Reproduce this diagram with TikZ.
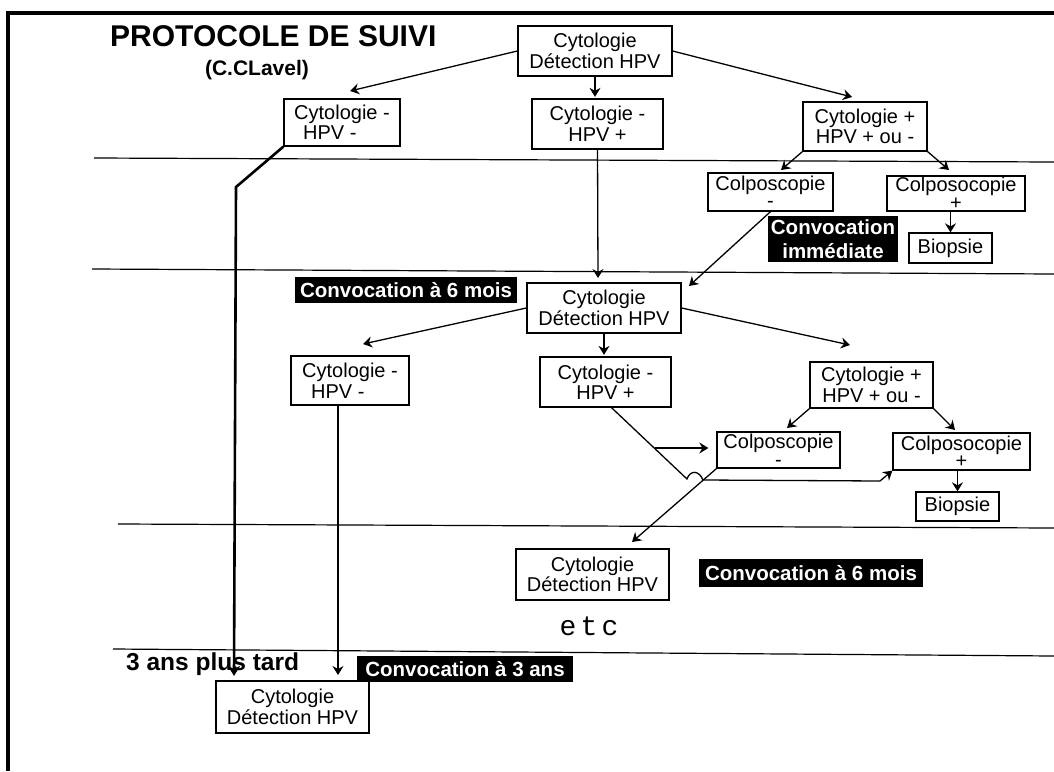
\documentclass[tikz,border=0pt]{standalone}
\usepackage{fontspec}
\setmainfont{Liberation Sans}
\newfontfamily\monof[LetterSpace=15]{Liberation Mono}
\usetikzlibrary{arrows.meta,calc}
\begin{document}
\begin{tikzpicture}[x=1pt,y=-1pt,
  box/.style={draw,line width=1.3pt,inner sep=0pt,align=center,font=\fontsize{20}{20.5}\selectfont},
  blk/.style={fill=black,text=white,inner sep=0pt,align=center,font=\bfseries\fontsize{20.5}{24}\selectfont},
  conn/.style={line width=1.3pt,-{Stealth[length=9pt,width=11pt,inset=3pt]}},
  thickconn/.style={line width=2.6pt,-{Stealth[length=10pt,width=12pt,inset=3pt]}},
  sep/.style={line width=1.2pt},
]
\useasboundingbox (0,0) rectangle (1054,771);
\fill[white] (0,0) rectangle (1054,771);
% frame
\draw[line width=4pt] (7.5,771) -- (7.5,12.5) -- (1054,12.5);
% separators
\draw[sep] (94,158) -- (1054,162);
\draw[sep] (92,269) -- (1054,274);
\draw[sep] (118,524) -- (1054,528);
\draw[sep] (113,649) -- (1054,656);
% titles
\node[anchor=base west,font=\bfseries\fontsize{30}{30}\selectfont,inner sep=0pt] (title) at (110,46) {PROTOCOLE DE SUIVI};
\node[anchor=base,font=\bfseries\fontsize{21}{22}\selectfont,inner sep=0pt] (auth) at (257,75) {(C.CLavel)};
% level 0
\node[box,minimum width=154pt,minimum height=50pt] (t1) at (595,51) {Cytologie\\Détection HPV};
% level 1
\node[box,minimum width=116pt,minimum height=47pt,align=left] (l1) at (342,122.5) {Cytologie -\\\hspace*{9pt}HPV -};
\node[box,minimum width=131pt,minimum height=50pt] (m1) at (597.5,124) {Cytologie -\\HPV +};
\node[box,minimum width=124pt,minimum height=49pt] (r1) at (865,126.5) {Cytologie +\\HPV + ou -};
\node[box,minimum width=125pt,minimum height=38pt] (cm1) at (770.5,192) {Colposcopie\\[-3pt]-};
\node[box,minimum width=138pt,minimum height=35pt] (cp1) at (956,193.5) {Colposocopie\\[-3pt]+};
\node[box,minimum width=83pt,minimum height=30pt] (b1) at (950.5,248) {Biopsie};
\node[blk,minimum width=130pt,minimum height=46pt] (ci) at (833,239) {Convocation\\immédiate};
% level 2
\node[blk,minimum width=222pt,minimum height=26pt] (cv6a) at (406,290) {Convocation à 6 mois};
\node[box,minimum width=154pt,minimum height=50pt] (t2) at (604,308) {Cytologie\\Détection HPV};
\node[box,minimum width=118pt,minimum height=49pt,align=left] (l2) at (350,380.5) {Cytologie -\\\hspace*{9pt}HPV -};
\node[box,minimum width=131pt,minimum height=50pt] (m2) at (605.5,382) {Cytologie -\\HPV +};
\node[box,minimum width=123pt,minimum height=46pt] (r2) at (871.5,385) {Cytologie +\\HPV + ou -};
\node[box,minimum width=123pt,minimum height=36pt] (cm2) at (778.5,450) {Colposcopie\\[-3pt]-};
\node[box,minimum width=137pt,minimum height=37pt] (cp2) at (961.5,451.5) {Colposocopie\\[-3pt]+};
\node[box,minimum width=83pt,minimum height=29pt] (b2) at (957.5,506.5) {Biopsie};
% level 3
\node[box,minimum width=153pt,minimum height=51pt] (t3) at (592.5,574.5) {Cytologie\\Détection HPV};
\node[blk,minimum width=224pt,minimum height=28pt] (cv6b) at (811,573) {Convocation à 6 mois};
\node[anchor=base,font=\monof\fontsize{28}{28}\selectfont,inner sep=0pt] (etc) at (589,635) {etc};
% level 4
\node[anchor=base west,font=\bfseries\fontsize{24.5}{25}\selectfont,inner sep=0pt] (tard) at (126,670) {3 ans plus tard};
\node[blk,minimum width=216pt,minimum height=26pt] (cv3) at (465,669) {Convocation à 3 ans};
\node[box,minimum width=153pt,minimum height=52pt] (bot) at (292.5,707) {Cytologie\\Détection HPV};
% arrow tips
\coordinate (a1) at (350,91);
\coordinate (a3) at (852,97);
\coordinate (a4) at (781,170);
\coordinate (a5) at (949,170);
\coordinate (a7) at (598,278);
\coordinate (a8) at (689,286);
\coordinate (a9) at (363,344);
\coordinate (a11) at (850,345);
\coordinate (a12) at (787,428);
\coordinate (a13) at (955,430);
\coordinate (a16) at (632,542);
\coordinate (a17) at (234,676);
\coordinate (a18) at (338,675);
\coordinate (br) at (655,448);
% connectors level 0 -> 1
\draw[conn] (t1.west) -- (a1);
\draw[conn,shorten >=1.5pt] (t1.south) -- (t1.south |- m1.north);
\draw[conn] (t1.east) -- (a3);
\draw[conn] (r1.south west) -- (a4);
\draw[conn] (r1.south east) -- (a5);
\draw[conn] (b1.north |- cp1.south) -- (b1.north);
% to level 2
\draw[conn] (m1.south) -- (a7);
\draw[conn] (cm1.south) -- (a8);
\draw[conn] (t2.west) -- (a9);
\draw[conn,shorten >=1.5pt] (t2.south) -- (t2.south |- m2.north);
\draw[conn] (t2.east) -- (a11);
\draw[conn] (r2.south west) -- (a12);
\draw[conn] (r2.south east) -- (a13);
\draw[conn] (b2.north |- cp2.south) -- (b2.north);
\draw[conn] ([xshift=6pt]m2.south) -- (687,479) .. controls (690,470) and (699,470) .. (703,480) -- (880,481) -- (cp2.south west);
\draw[conn,shorten >=8pt] (br) -- (br -| cm2.west);
\draw[conn] (cm2.south west) -- (a16);
% long lines to the bottom box
\draw[thickconn,line join=miter] (l1.south west) -- (236,187) -- (a17);
\draw[conn] ([xshift=-12pt]l2.south) -- (a18);
\end{tikzpicture}
\end{document}
